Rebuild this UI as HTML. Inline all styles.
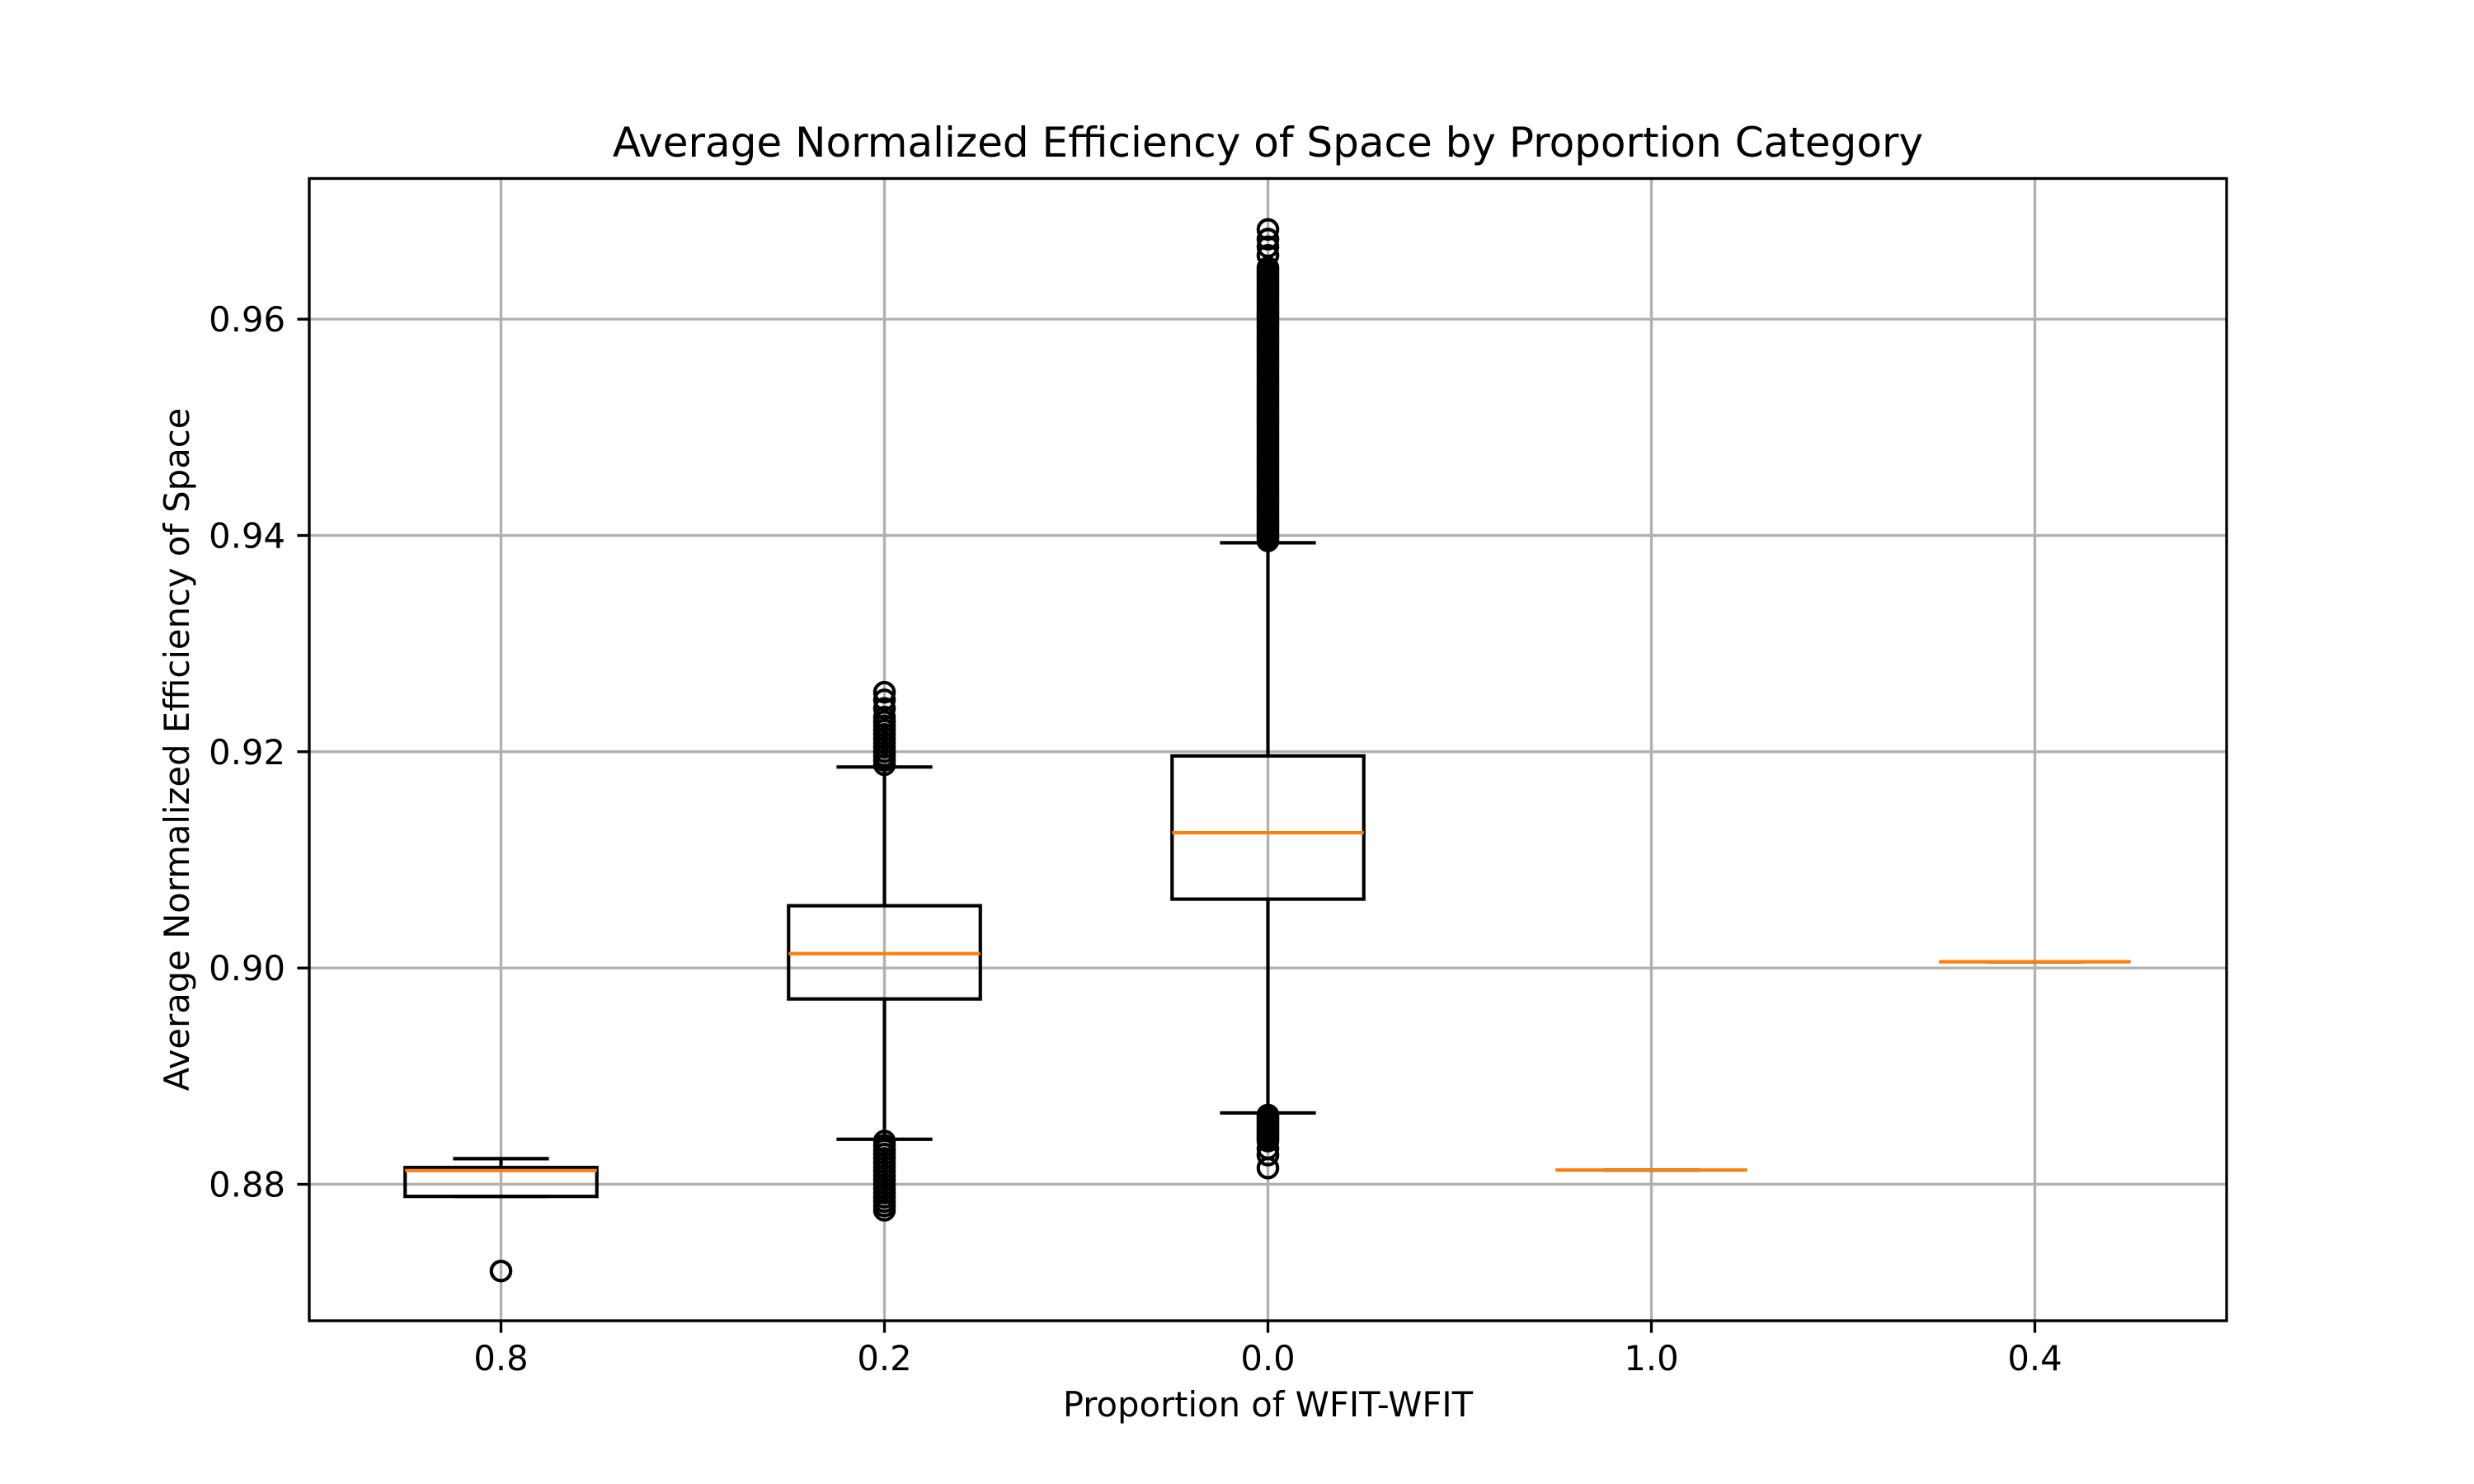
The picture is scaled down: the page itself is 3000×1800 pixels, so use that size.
<!DOCTYPE html>
<html><head><meta charset="utf-8">
<style>html,body{margin:0;padding:0;background:#fff;}svg{display:block;}text{font-family:"DejaVu Sans","Liberation Sans",sans-serif;}</style>
</head><body>
<svg id="chart" width="3000" height="1800" viewBox="0 0 3000 1800" xmlns="http://www.w3.org/2000/svg">
<rect x="0" y="0" width="3000" height="1800" fill="#fff"/>
<g id="grid"></g>
<g id="marks"></g>
<g id="axes"></g>
<text x="1537.5" y="190" font-size="50" text-anchor="middle">Average Normalized Efficiency of Space by Proportion Category</text>
<text x="1537.5" y="1718" font-size="41.7" text-anchor="middle">Proportion of WFIT-WFIT</text>
<text x="0" y="0" font-size="41.7" text-anchor="middle" transform="translate(229,909) rotate(-90)">Average Normalized Efficiency of Space</text>
</svg>
<script>
const categories = ["0.8","0.2","0.0","1.0","0.4"];
const q1Values = [0.87888,0.89714,0.90637,0.88132,0.90058];
const medianValues = [0.88127,0.90133,0.91251,0.88132,0.90058];
const q3Values = [0.88155,0.90576,0.91961,0.88132,0.90058];
const lowerWhiskers = [0.87888,0.88417,0.88660,0.88132,0.90058];
const upperWhiskers = [0.88237,0.91859,0.93932,0.88132,0.90058];
const outliers0 = [0.87198];
const outliers1 = [0.9188,0.9192,0.9196,0.9200,0.9204,0.9208,0.9212,0.9216,0.9220,0.9224,0.9228,0.9232,0.9240,0.9248,0.9255,
  0.8840,0.8836,0.8832,0.8828,0.8824,0.8820,0.8816,0.8812,0.8808,0.8804,0.8800,0.8796,0.8792,0.8788,0.8784,0.8780,0.8776];
const outliers2 = [0.9395,0.93975,0.9400,0.94025,0.9405,0.94075,0.9410,0.94125,0.9415,0.94175,0.9420,0.94225,0.9425,0.94275,0.9430,0.94325,0.9435,0.94375,0.9440,0.94425,0.9445,0.94475,0.9450,0.94525,0.9455,0.94575,0.9460,0.94625,0.9465,0.94675,0.9470,0.94725,0.9475,0.94775,0.9480,0.94825,0.9485,0.94875,0.9490,0.94925,0.9495,0.94975,0.9500,0.95025,0.9505,0.95075,0.9510,0.95125,0.9515,0.95175,0.9520,0.95225,0.9525,0.95275,0.9530,0.95325,0.9535,0.95375,0.9540,0.95425,0.9545,0.95475,0.9550,0.95525,0.9555,0.95575,0.9560,0.95625,0.9565,0.95675,0.9570,0.95725,0.9575,0.95775,0.9580,0.95825,0.9585,0.95875,0.9590,0.95925,0.9595,0.95975,0.9600,0.96025,0.9605,0.96075,0.9610,0.96125,0.9615,0.96175,0.9620,0.96225,0.9625,0.96275,0.9630,0.96325,0.9635,0.96375,0.9640,0.96425,0.9645,0.96475,0.9659,0.9667,0.9674,0.9683,
  0.8864,0.8862,0.8860,0.8858,0.8856,0.8854,0.8852,0.8850,0.8848,0.8846,0.8844,0.8842,0.8840,0.8833,0.8827,0.8815];
const outliers3 = [];
const outliers4 = [];
const yTicks = [0.88,0.90,0.92,0.94,0.96];
const yTickLabels = ["0.88","0.90","0.92","0.94","0.96"];

const NS="http://www.w3.org/2000/svg";
const L=375,R=2700,T=216.5,B=1602;
const yMin=0.86738,yMax=0.97301;
function y(v){return B-(v-yMin)/(yMax-yMin)*(B-T);}
function x(i){return L+(i+0.5)/categories.length*(R-L);}
const unit=(R-L)/categories.length;
function mk(tag,attrs,parent){const e=document.createElementNS(NS,tag);for(const k in attrs)e.setAttribute(k,attrs[k]);parent.appendChild(e);return e;}
const grid=document.getElementById('grid'),marks=document.getElementById('marks'),axes=document.getElementById('axes');

yTicks.forEach((t,i)=>{
  const g=mk('line',{x1:L,x2:R,y1:y(t),y2:y(t),stroke:'#b0b0b0','stroke-width':3.33},grid);
  
  
  const tk=mk('line',{x1:L-14.6,x2:L,y1:y(t),y2:y(t),stroke:'#000','stroke-width':3.33},axes);
  
  
  const tx=mk('text',{x:L-29,y:y(t)+15,'font-size':41.7,'text-anchor':'end'},axes);
  tx.textContent=yTickLabels[i];
  
  
});
categories.forEach((c,i)=>{
  const g=mk('line',{x1:x(i),x2:x(i),y1:T,y2:B,stroke:'#b0b0b0','stroke-width':3.33},grid);
  
  
  const tk=mk('line',{x1:x(i),x2:x(i),y1:B,y2:B+14.6,stroke:'#000','stroke-width':3.33},axes);
  
  
  const tx=mk('text',{x:x(i),y:1662,'font-size':41.7,'text-anchor':'middle'},axes);
  tx.textContent=c;
  
  
});
const sp=mk('rect',{x:L,y:T,width:R-L,height:B-T,fill:'none',stroke:'#000','stroke-width':3.33},axes);



const allOut=[outliers0,outliers1,outliers2,outliers3,outliers4];
categories.forEach((c,i)=>{
  const cx=x(i),bw=unit*0.5,cw=unit*0.25,lw=4.17;
  const g=mk('g',{},marks);
  
  
  mk('line',{x1:cx,x2:cx,y1:y(q3Values[i]),y2:y(upperWhiskers[i]),stroke:'#000','stroke-width':lw},g);
  mk('line',{x1:cx,x2:cx,y1:y(q1Values[i]),y2:y(lowerWhiskers[i]),stroke:'#000','stroke-width':lw},g);
  mk('line',{x1:cx-cw/2,x2:cx+cw/2,y1:y(upperWhiskers[i]),y2:y(upperWhiskers[i]),stroke:'#000','stroke-width':lw},g);
  mk('line',{x1:cx-cw/2,x2:cx+cw/2,y1:y(lowerWhiskers[i]),y2:y(lowerWhiskers[i]),stroke:'#000','stroke-width':lw},g);
  mk('rect',{x:cx-bw/2,y:y(q3Values[i]),width:bw,height:Math.max(0,y(q1Values[i])-y(q3Values[i])),fill:'none',stroke:'#000','stroke-width':lw},g);
  mk('line',{x1:cx-bw/2,x2:cx+bw/2,y1:y(medianValues[i]),y2:y(medianValues[i]),stroke:'#ff7f0e','stroke-width':lw},g);
  allOut[i].forEach(v=>{
    const o=mk('circle',{cx:cx,cy:y(v),r:11.7,fill:'none',stroke:'#000','stroke-width':4.17},g);
    
    
  });
});
</script>
</body></html>
